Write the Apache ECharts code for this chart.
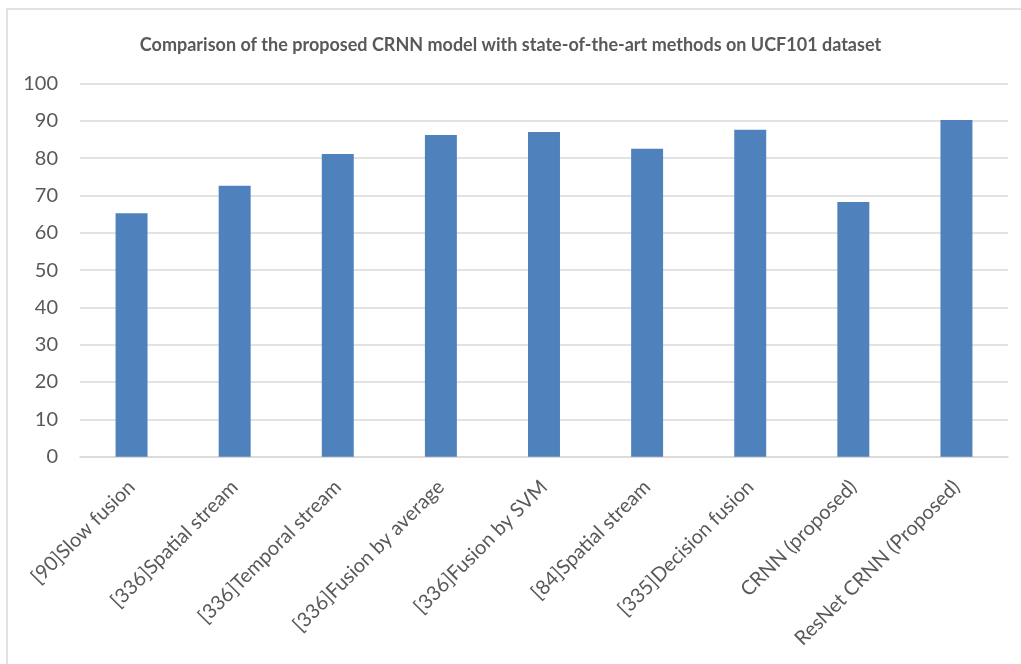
<!DOCTYPE html>
<html>
<head>
<meta charset="utf-8">
<style>
  html, body { margin: 0; padding: 0; background: #ffffff; }
  #chart { width: 1021px; height: 664px; }
</style>
<script src="https://cdn.jsdelivr.net/npm/echarts@6/dist/echarts.min.js"></script>
</head>
<body>
<div id="chart"></div>
<script>
// Accuracy (%) of each method on UCF101
const categories = [
  '[90]Slow fusion',
  '[336]Spatial stream',
  '[336]Temporal stream',
  '[336]Fusion by average',
  '[336]Fusion by SVM',
  '[84]Spatial stream',
  '[335]Decision fusion',
  'CRNN (proposed)',
  'ResNet CRNN (Proposed)'
];
const accuracy = [65.2, 72.6, 81.1, 86.2, 87.0, 82.5, 87.6, 68.2, 90.2];
const yTicks = { min: 0, max: 100, interval: 10 };
const titleText = 'Comparison of the proposed CRNN model with state-of-the-art methods on UCF101 dataset';

const textColor = '#595959';
const gridColor = '#d9d9d9';
const font = 'Lato, "Open Sans", sans-serif';

const chart = echarts.init(document.getElementById('chart'), null, { renderer: 'canvas' });
chart.setOption({
  animation: false,
  backgroundColor: '#ffffff',
  graphic: [{
    type: 'rect',
    shape: { x: 7, y: 9, width: 1040, height: 700 },
    style: { fill: 'none', stroke: gridColor, lineWidth: 1.5 },
    silent: true,
    z: -1
  }],
  title: {
    text: titleText,
    left: 'center',
    top: 31,
    textStyle: {
      fontFamily: font,
      fontSize: 18,
      fontWeight: 'bold',
      color: textColor
    }
  },
  grid: { left: 80, right: 13, top: 83.4, bottom: 207.3, containLabel: false },
  xAxis: {
    type: 'category',
    data: categories,
    axisLine: { show: true, lineStyle: { color: gridColor, width: 1.5 } },
    axisTick: { show: false },
    axisLabel: {
      rotate: 45,
      interval: 0,
      margin: 27,
      fontFamily: font,
      fontSize: 20,
      color: textColor
    }
  },
  yAxis: {
    type: 'value',
    min: yTicks.min,
    max: yTicks.max,
    interval: yTicks.interval,
    axisLine: { show: false },
    axisTick: { show: false },
    splitLine: { lineStyle: { color: gridColor, width: 1.5 } },
    axisLabel: {
      margin: 22,
      fontFamily: font,
      fontSize: 20,
      color: textColor
    }
  },
  series: [{
    type: 'bar',
    data: accuracy,
    barWidth: '31%',
    itemStyle: { color: '#4f81bd' }
  }]
});
</script>
</body>
</html>
